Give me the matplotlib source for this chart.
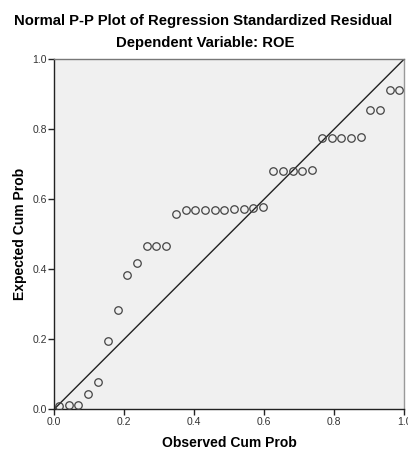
import matplotlib
matplotlib.use("Agg")
import matplotlib.pyplot as plt

# data
observed = [0.014, 0.042, 0.069, 0.097, 0.125, 0.153, 0.181, 0.208, 0.236,
            0.264, 0.292, 0.319, 0.347, 0.375, 0.403, 0.431, 0.458, 0.486,
            0.514, 0.542, 0.569, 0.597, 0.625, 0.653, 0.681, 0.708, 0.736,
            0.764, 0.792, 0.819, 0.847, 0.875, 0.903, 0.931, 0.958, 0.986]
expected = [0.008, 0.012, 0.012, 0.044, 0.078, 0.194, 0.282, 0.383, 0.418,
            0.467, 0.467, 0.467, 0.557, 0.568, 0.568, 0.568, 0.568, 0.568,
            0.570, 0.570, 0.574, 0.576, 0.681, 0.681, 0.681, 0.681, 0.683,
            0.775, 0.775, 0.775, 0.775, 0.777, 0.853, 0.853, 0.911, 0.911]
ticks = [0.0, 0.2, 0.4, 0.6, 0.8, 1.0]
tick_labels = ["0.0", "0.2", "0.4", "0.6", "0.8", "1.0"]

plt.rcParams['font.family'] = ['Liberation Sans', 'DejaVu Sans']

fig = plt.figure(figsize=(4.08, 4.5), dpi=100)
fig.patch.set_facecolor('white')
ax = fig.add_axes([0.133, 0.091, 0.858, 0.778])
ax.set_facecolor('#f0f0f0')

# diagonal reference line
ax.plot([0, 1], [0, 1], color='#222222', lw=1.0, zorder=2)
ax.plot(observed, expected, ls='none', marker='o', ms=5.4, mfc='none',
        mec='#444444', mew=0.9, zorder=3)

ax.set_xlim(0, 1)
ax.set_ylim(0, 1)
ax.set_xticks(ticks)
ax.set_xticklabels(tick_labels)
ax.set_yticks(ticks)
ax.set_yticklabels(tick_labels)
ax.tick_params(direction='out', length=4, width=1, color='#222222',
               labelsize=7.5, labelcolor='#333333', pad=1.5)

ax.spines['left'].set_color('#222222')
ax.spines['bottom'].set_color('#222222')
ax.spines['top'].set_color('#777777')
ax.spines['right'].set_color('#999999')
for s in ax.spines.values():
    s.set_linewidth(1.0)

ax.set_xlabel('Observed Cum Prob', fontsize=10, fontweight='bold', labelpad=7)
ax.set_ylabel('Expected Cum Prob', fontsize=10, fontweight='bold', labelpad=4)

fig.text(0.497, 1 - 21 / 450, 'Normal P-P Plot of Regression Standardized Residual',
         ha='center', va='center', fontsize=10.7, fontweight='bold')
fig.text(0.502, 1 - 43 / 450, 'Dependent Variable: ROE',
         ha='center', va='center', fontsize=10.7, fontweight='bold')

fig.savefig('out.png', dpi=100)
